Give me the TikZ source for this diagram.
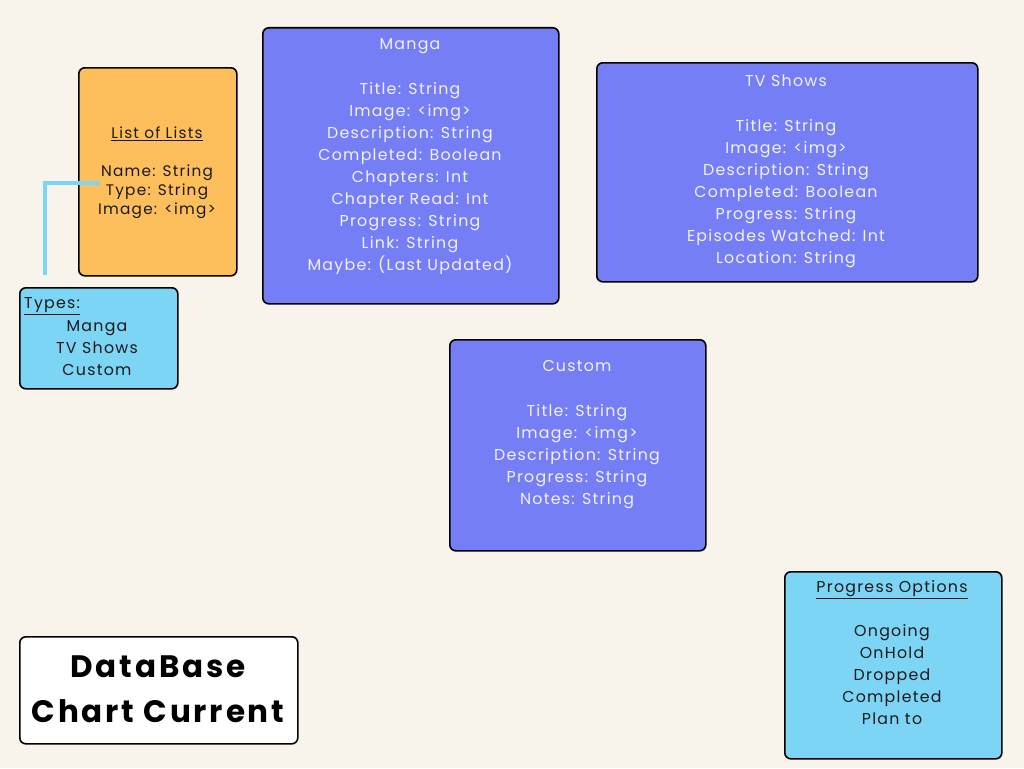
\documentclass[tikz,border=0pt]{standalone}
\usepackage{fontspec}
\setmainfont{Poppins}[LetterSpace=8]
\newfontfamily\titlefont{Poppins}[LetterSpace=9,FontFace={b}{n}{* Bold}]
\definecolor{bgc}{HTML}{F8F3EB}
\definecolor{orangec}{HTML}{FDBE5C}
\definecolor{purplec}{HTML}{767EF5}
\definecolor{bluec}{HTML}{7DD5F6}
\definecolor{inkc}{HTML}{1A1A1A}
\definecolor{paletext}{HTML}{F2F2FA}
\begin{document}
\begin{tikzpicture}[x=1pt,y=-1pt,
  card/.style={draw=black,line width=1.6pt,rounded corners=6pt,anchor=north west,inner sep=0pt},
  txt/.style={font=\fontsize{15.8}{22}\selectfont,align=center,inner sep=0pt,anchor=north},
  smalltxt/.style={font=\fontsize{15.3}{19}\selectfont,align=center,inner sep=0pt,anchor=north,text=inkc},
  wtxt/.style={txt,text=paletext},
  link/.style={draw=bluec,line width=4pt}]
\fill[bgc] (0,0) rectangle (1024,768);
\useasboundingbox (0,0) rectangle (1024,768);

% List of Lists
\node[card,fill=orangec,minimum width=158pt,minimum height=208pt] (lol) at (78,67) {};
\node[smalltxt] (loltitle) at (157,127) {\underline{List of Lists}};
\node[smalltxt] (lolbody) at (157,165) {Name: String\\Type: String\\Image: <img>};

% Types
\node[card,fill=bluec,minimum width=158pt,minimum height=101pt] (types) at (19,287) {};
\node[txt,anchor=north west,text=inkc] (typestitle) at (24,297) {\underline{Types:}};
\node[txt,text=inkc] (typesbody) at (97,320) {Manga\\TV Shows\\Custom};

% connector
\coordinate (c1) at (100,183);
\coordinate (c2) at (45,275);
\draw[link] (c1) -| (c2);

% Manga
\node[card,fill=purplec,minimum width=296pt,minimum height=276pt] (manga) at (262,27) {};
\node[wtxt] (mangatitle) at (410,38) {Manga};
\node[wtxt] (mangabody) at (410,82) {Title: String\\Image: <img>\\Description: String\\Completed: Boolean\\Chapters: Int\\Chapter Read: Int\\Progress: String\\Link: String\\Maybe: (Last Updated)};

% TV Shows
\node[card,fill=purplec,minimum width=381pt,minimum height=219pt] (tv) at (596,62) {};
\node[wtxt] (tvtitle) at (786,75) {TV Shows};
\node[wtxt] (tvbody) at (786,119) {Title: String\\Image: <img>\\Description: String\\Completed: Boolean\\Progress: String\\Episodes Watched: Int\\Location: String};

% Custom
\node[card,fill=purplec,minimum width=256pt,minimum height=211pt] (custom) at (449,339) {};
\node[wtxt] (customtitle) at (577,360) {Custom};
\node[wtxt] (custombody) at (577,404) {Title: String\\Image: <img>\\Description: String\\Progress: String\\Notes: String};

% Progress Options
\node[card,fill=bluec,minimum width=217pt,minimum height=187pt] (prog) at (784,571) {};
\node[txt,text=inkc] (progtitle) at (892,580) {\underline{Progress Options}};
\node[txt,text=inkc] (progbody) at (892,624) {Ongoing\\OnHold\\Dropped\\Completed\\Plan to};

% Title
\node[card,fill=white,minimum width=278pt,minimum height=107pt] (titlebox) at (19,636) {};
\node[font=\titlefont\bfseries\fontsize{31}{45}\selectfont,align=center,inner sep=0pt,anchor=north,text=black] (titletext) at (158,656) {DataBase\\Chart Current};
\end{tikzpicture}
\end{document}
